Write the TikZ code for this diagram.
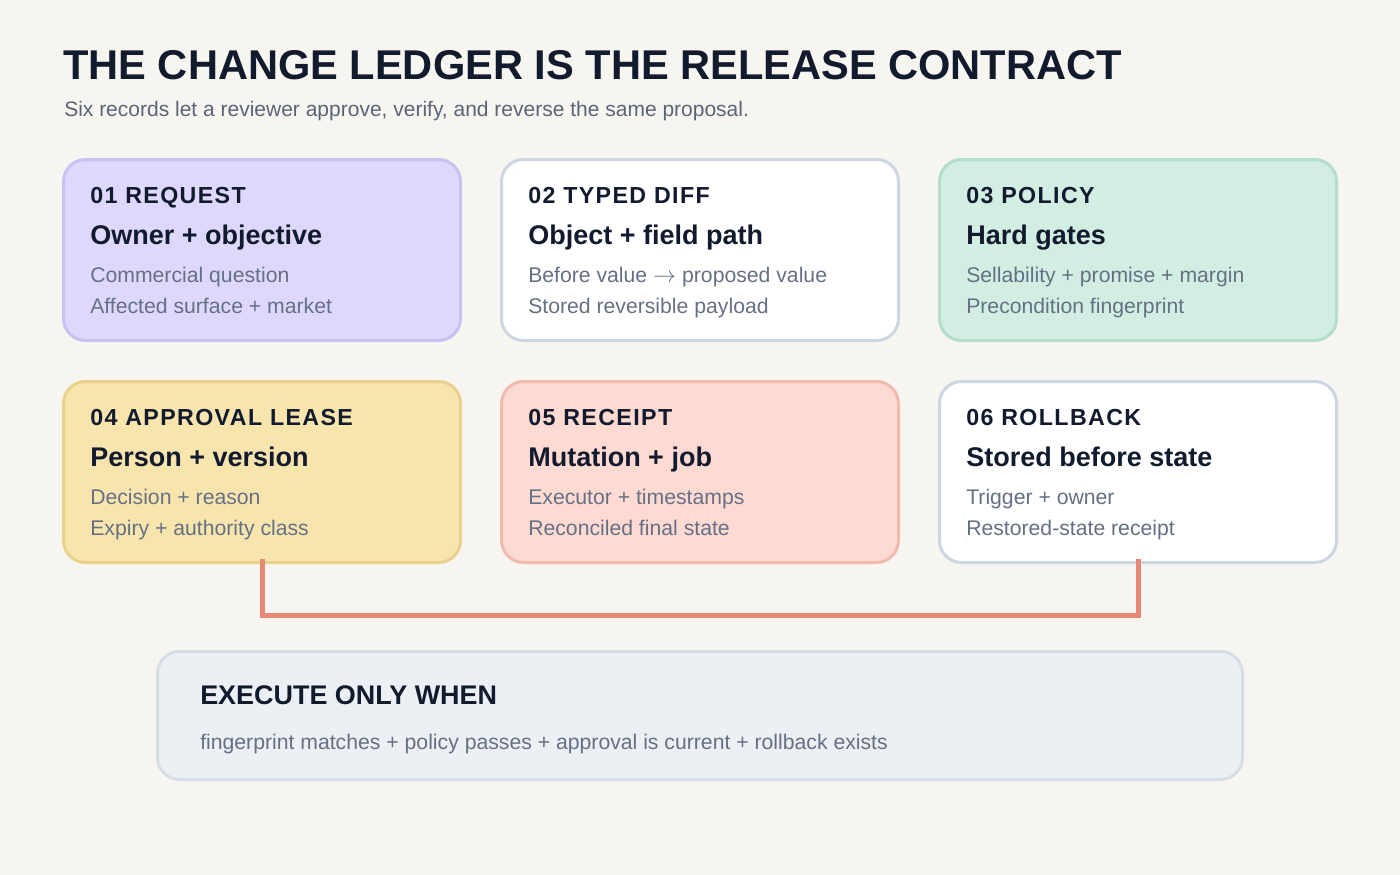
\documentclass[tikz,border=0pt]{standalone}
\usepackage{fontspec}
\setmainfont{Liberation Sans}
\usetikzlibrary{calc}
\definecolor{bgc}{HTML}{F6F5F0}
\definecolor{ink}{HTML}{121A2E}
\definecolor{subc}{HTML}{5B6477}
\definecolor{linec}{HTML}{667085}
\definecolor{f1}{HTML}{DDD8FC}\definecolor{d1}{HTML}{C9C1F1}
\definecolor{f2}{HTML}{FFFFFF}\definecolor{d2}{HTML}{CED6E2}
\definecolor{f3}{HTML}{D2EEE3}\definecolor{d3}{HTML}{B3DDCC}
\definecolor{f4}{HTML}{F8E5AE}\definecolor{d4}{HTML}{E9D18C}
\definecolor{f5}{HTML}{FEDAD2}\definecolor{d5}{HTML}{F2BAAE}
\definecolor{f7}{HTML}{ECEFF3}\definecolor{d7}{HTML}{D6DDE7}
\definecolor{conn}{HTML}{EA8878}
\begin{document}
\begin{tikzpicture}[x=0.75pt,y=-0.75pt,
  card/.style={draw, rounded corners=16.5pt, line width=2.25pt, minimum width=297.75pt, minimum height=135.75pt, inner sep=0pt},
  txt/.style={anchor=base west, inner sep=0pt},
  kicker/.style={txt, text=ink, font=\fontsize{17.4}{20}\selectfont\bfseries\addfontfeatures{LetterSpace=6}},
  head/.style={txt, text=ink, font=\fontsize{20.25}{24}\selectfont\bfseries},
  body/.style={txt, text=linec, font=\fontsize{15.9}{19}\selectfont},
]
\fill[bgc] (0,0) rectangle (1400,875);
\useasboundingbox (0,0) rectangle (1400,875);

\node[txt, text=ink, font=\fontsize{31.2}{36}\selectfont\bfseries] (title) at (63,79) {THE CHANGE LEDGER IS THE RELEASE CONTRACT};
\node[txt, text=subc, font=\fontsize{15.75}{18}\selectfont] (subtitle) at (64,116) {Six records let a reviewer approve, verify, and reverse the same proposal.};

% cards
\node[card, fill=f1, draw=d1] (b1) at (262,250) {};
\node[card, fill=f2, draw=d2] (b2) at (700,250) {};
\node[card, fill=f3, draw=d3] (b3) at (1138,250) {};
\node[card, fill=f4, draw=d4] (b4) at (262,472) {};
\node[card, fill=f5, draw=d5] (b5) at (700,472) {};
\node[card, fill=f2, draw=d2] (b6) at (1138,472) {};
\node[card, fill=f7, draw=d7, minimum width=813.75pt, minimum height=96pt] (b7) at (700,715.5) {};

% connector
\coordinate (mid) at (700,615);
\draw[conn, line width=3.75pt] ([yshift=4pt]b4.south) |- (mid) -| ([yshift=4pt]b6.south);

% card texts row 1
\node[kicker] (k1) at (90,203) {01 REQUEST};
\node[head] (h1) at (90,244) {Owner + objective};
\node[body] (l1a) at (90,282) {Commercial question};
\node[body] (l1b) at (90,313) {Affected surface + market};

\node[kicker] (k2) at (528,203) {02 TYPED DIFF};
\node[head] (h2) at (528,244) {Object + field path};
\node[body] (l2a) at (528,282) {Before value \(\rightarrow\) proposed value};
\node[body] (l2b) at (528,313) {Stored reversible payload};

\node[kicker] (k3) at (966,203) {03 POLICY};
\node[head] (h3) at (966,244) {Hard gates};
\node[body] (l3a) at (966,282) {Sellability + promise + margin};
\node[body] (l3b) at (966,313) {Precondition fingerprint};

% row 2
\node[kicker] (k4) at (90,425) {04 APPROVAL LEASE};
\node[head] (h4) at (90,466) {Person + version};
\node[body] (l4a) at (90,504) {Decision + reason};
\node[body] (l4b) at (90,535) {Expiry + authority class};

\node[kicker] (k5) at (528,425) {05 RECEIPT};
\node[head] (h5) at (528,466) {Mutation + job};
\node[body] (l5a) at (528,504) {Executor + timestamps};
\node[body] (l5b) at (528,535) {Reconciled final state};

\node[kicker] (k6) at (966,425) {06 ROLLBACK};
\node[head] (h6) at (966,466) {Stored before state};
\node[body] (l6a) at (966,504) {Trigger + owner};
\node[body] (l6b) at (966,535) {Restored-state receipt};

% bottom
\node[txt, text=ink, font=\fontsize{20.2}{23}\selectfont\bfseries] (eh) at (200,704) {EXECUTE ONLY WHEN};
\node[body] (el) at (200,749) {fingerprint matches + policy passes + approval is current + rollback exists};
\end{tikzpicture}
\end{document}
